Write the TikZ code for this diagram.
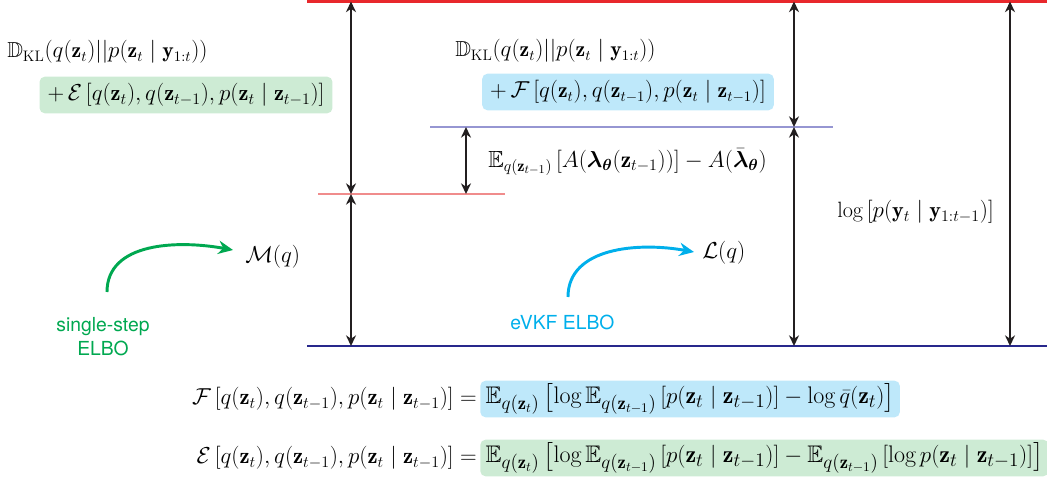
\documentclass[tikz,border=0pt]{standalone}
\usepackage{amsmath,amssymb,bm}
\usepackage{fontspec}
\newfontfamily\lblfont{TeX Gyre Heros}
\usetikzlibrary{arrows.meta}
\DeclareMathSizes{18}{18}{14}{10}
\definecolor{topred}{RGB}{232,40,44}
\definecolor{botblue}{RGB}{40,40,140}
\definecolor{pinkl}{RGB}{240,140,140}
\definecolor{lavl}{RGB}{150,150,210}
\definecolor{arrgray}{RGB}{35,31,32}
\definecolor{gfill}{RGB}{205,235,212}
\definecolor{bfill}{RGB}{190,232,250}
\definecolor{garr}{RGB}{0,168,80}
\definecolor{carr}{RGB}{0,175,235}
\tikzset{
  level/.style={line width=2.2pt},
  dim/.style={line width=2pt, draw=arrgray, {Stealth[length=8pt,width=7.5pt]}-{Stealth[length=8pt,width=7.5pt]}},
  mtext/.style={inner sep=0pt, font=\fontsize{16.3}{19}\selectfont},
  btext/.style={inner sep=0pt, font=\fontsize{17}{20}\selectfont},
  rtext/.style={inner sep=0pt, font=\fontsize{18}{21}\selectfont},
  hbox/.style={inner xsep=6pt, inner ysep=0pt, minimum height=27.5pt, rounded corners=4pt},
  curvearr/.style={line width=2.2pt, -{Stealth[length=11pt,width=10pt]}},
  lbl/.style={inner sep=0pt, font=\lblfont\fontsize{14.5}{18}\selectfont, align=center}
}
\begin{document}
\begin{tikzpicture}[x=0.75pt,y=-0.75pt]
\useasboundingbox (0,0) rectangle (1047,478);
% levels
\coordinate (tl) at (307,1.5);   \coordinate (tr) at (1047,1.5);
\coordinate (bl) at (307,346);   \coordinate (br) at (1047,346);
\coordinate (pl) at (318,194);   \coordinate (pr) at (505,194);
\coordinate (vl) at (430,127);   \coordinate (vr) at (833,127);
\draw[level, topred] (tl) -- (tr);
\draw[level, botblue] (bl) -- (br);
\draw[level, pinkl] (pl) -- (pr);
\draw[level, lavl] (vl) -- (vr);
% dimension arrows
\coordinate (a1) at (351,1.5); \coordinate (a2) at (351,194); \coordinate (a3) at (351,346);
\coordinate (b1) at (466,127); \coordinate (b2) at (466,194);
\coordinate (c1) at (794,1.5); \coordinate (c2) at (794,127); \coordinate (c3) at (794,346);
\coordinate (d1) at (1010,1.5); \coordinate (d2) at (1010,346);
\draw[dim] (a1) -- (a2);
\draw[dim] (a2) -- (a3);
\draw[dim] (b1) -- (b2);
\draw[dim] (c1) -- (c2);
\draw[dim] (c2) -- (c3);
\draw[dim] (d1) -- (d2);
% texts left
\node[mtext, anchor=west] (kl1) at (7,52) {$\mathbb{D}_{\mathrm{KL}}(q(\mathbf{z}_t)||p(\mathbf{z}_t\mid \mathbf{y}_{1:t}))$};
\node[mtext, hbox, fill=gfill, anchor=center, font=\fontsize{16.8}{19}\selectfont] (e1) at (186,95) {$+\,\mathcal{E}\left[q(\mathbf{z}_t),q(\mathbf{z}_{t-1}),p(\mathbf{z}_t\mid\mathbf{z}_{t-1})\right]$};
% texts middle
\node[mtext, anchor=west] (kl2) at (455,51) {$\mathbb{D}_{\mathrm{KL}}(q(\mathbf{z}_t)||p(\mathbf{z}_t\mid \mathbf{y}_{1:t}))$};
\node[mtext, hbox, fill=bfill, anchor=center] (f1) at (628,92) {$+\,\mathcal{F}\left[q(\mathbf{z}_t),q(\mathbf{z}_{t-1}),p(\mathbf{z}_t\mid\mathbf{z}_{t-1})\right]$};
\node[btext, anchor=west, font=\fontsize{17.5}{20}\selectfont] (gap) at (488,162) {$\mathbb{E}_{q(\mathbf{z}_{t-1})}\left[A(\bm{\lambda}_{\bm{\theta}}(\mathbf{z}_{t-1}))\right]-A(\bar{\bm{\lambda}}_{\bm{\theta}})$};
\node[btext, anchor=west, font=\fontsize{16.6}{19}\selectfont] (logp) at (837,212) {$\log\left[p(\mathbf{y}_t\mid\mathbf{y}_{1:t-1})\right]$};
\node[mtext, anchor=west] (mq) at (245,257) {$\mathcal{M}(q)$};
\node[mtext, anchor=west] (lq) at (702,253) {$\mathcal{L}(q)$};
% labels and curved arrows
\node[lbl, text=garr] (ss) at (103,337) {single-step\\ELBO};
\node[lbl, text=carr, anchor=west] (ev) at (510,322) {eVKF ELBO};
\coordinate (gs) at (107,292); \coordinate (ge) at (233,250);
\coordinate (cs) at (568,297); \coordinate (ce) at (694,252);
\draw[curvearr, garr] (gs) .. controls +(0,-50) and +(-55,-10) .. (ge);
\draw[curvearr, carr] (cs) .. controls +(0,-50) and +(-55,-10) .. (ce);
% bottom equations
\node[btext, anchor=east] (fl) at (477,399) {$\mathcal{F}\left[q(\mathbf{z}_t),q(\mathbf{z}_{t-1}),p(\mathbf{z}_t\mid\mathbf{z}_{t-1})\right]=$};
\node[rtext, hbox, fill=bfill, anchor=west, inner xsep=4pt] (fr) at (480,399) {$\mathbb{E}_{q(\mathbf{z}_t)}\,\bigl[\log\mathbb{E}_{q(\mathbf{z}_{t-1})}\left[p(\mathbf{z}_t\mid\mathbf{z}_{t-1})\right]-\log\bar{q}(\mathbf{z}_t)\bigr]$\hspace{-1pt}};
\node[btext, anchor=east] (el) at (477,458) {$\mathcal{E}\left[q(\mathbf{z}_t),q(\mathbf{z}_{t-1}),p(\mathbf{z}_t\mid\mathbf{z}_{t-1})\right]=$};
\node[rtext, hbox, fill=gfill, anchor=west, inner xsep=4pt] (er) at (480,458) {$\mathbb{E}_{q(\mathbf{z}_t)}\,\bigl[\log\mathbb{E}_{q(\mathbf{z}_{t-1})}\left[p(\mathbf{z}_t\mid\mathbf{z}_{t-1})\right]-\mathbb{E}_{q(\mathbf{z}_{t-1})}\left[\log p(\mathbf{z}_t\mid\mathbf{z}_{t-1})\right]\bigr]$\hspace{7pt}};
\end{tikzpicture}
\end{document}
